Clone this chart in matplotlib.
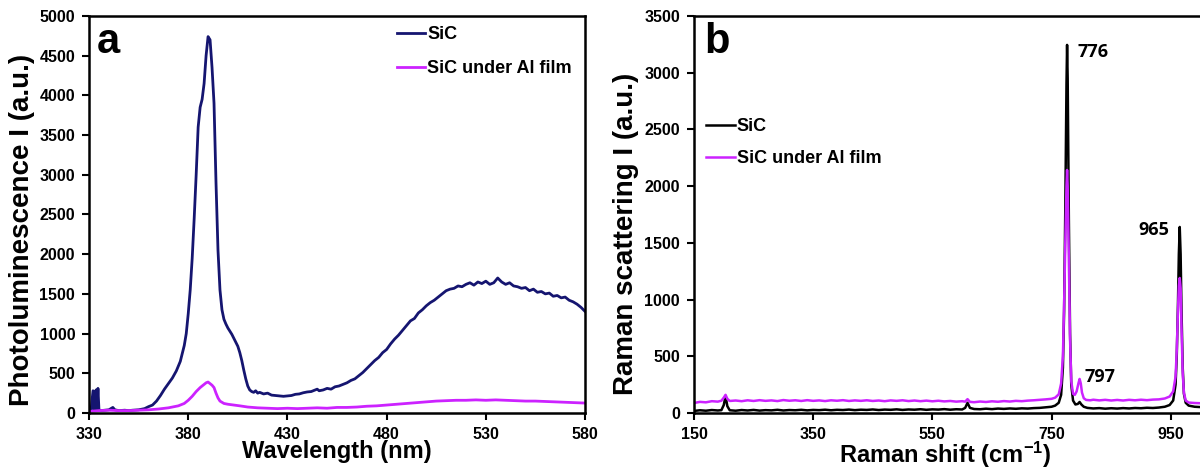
import matplotlib
matplotlib.use("Agg")
import matplotlib.pyplot as plt

plt.rcParams["font.family"] = ["Liberation Sans", "DejaVu Sans"]
plt.rcParams["font.weight"] = "bold"
plt.rcParams["mathtext.fontset"] = "custom"
plt.rcParams["mathtext.rm"] = "Liberation Sans:bold"
plt.rcParams["mathtext.bf"] = "Liberation Sans:bold"
plt.rcParams["mathtext.default"] = "bf"

# --- Panel a: photoluminescence ---
pl_wl = [330, 331, 332, 332.5, 333, 333.5, 334, 334.5, 335, 336, 338, 340, 342, 343, 345, 348,
         350, 352, 355, 358, 360, 362, 364, 366, 368, 370, 372, 374, 376, 378, 379, 380, 381,
         382, 383, 384, 385, 386, 387, 388, 389, 390, 391, 392, 393, 394, 395, 396, 397, 398,
         399, 400, 401, 402, 403, 404, 405, 406, 407, 408, 409, 410, 411, 412, 413, 414, 415,
         416, 418, 420, 422, 424, 426, 428, 430, 432, 434, 436, 438, 440, 442, 444, 445, 446,
         448, 450, 452, 454, 456, 458, 460, 462, 464, 466, 468, 470, 472, 474, 476, 478, 480,
         482, 484, 486, 488, 490, 492, 494, 496, 498, 500, 502, 504, 506, 508, 510, 512, 514,
         516, 518, 520, 522, 524, 526, 528, 530, 532, 534, 536, 538, 540, 542, 544, 546, 548,
         550, 552, 554, 556, 558, 560, 562, 564, 566, 568, 570, 572, 574, 576, 578, 580]
pl_sic = [30, 35, 280, 40, 30, 290, 40, 310, 40, 30, 35, 40, 70, 40, 30, 35,
          30, 35, 40, 55, 80, 100, 150, 220, 300, 370, 440, 530, 650, 850, 1000, 1250, 1550,
          1950, 2450, 3000, 3600, 3850, 3950, 4150, 4500, 4740, 4700, 4350, 3900, 2900, 2050, 1550, 1300, 1180,
          1120, 1070, 1030, 990, 940, 890, 840, 760, 660, 540, 430, 340, 290, 270, 260, 280, 250,
          260, 240, 250, 225, 220, 215, 210, 215, 220, 235, 240, 255, 265, 270, 290, 300, 280,
          290, 310, 300, 330, 340, 360, 380, 410, 430, 470, 510, 560, 610, 660, 700, 760, 800,
          870, 930, 980, 1040, 1100, 1160, 1190, 1260, 1300, 1350, 1390, 1420, 1460, 1500, 1540, 1560, 1570,
          1600, 1590, 1620, 1640, 1610, 1650, 1630, 1660, 1620, 1640, 1700, 1650, 1620, 1640, 1600, 1590, 1570,
          1580, 1540, 1560, 1520, 1530, 1500, 1510, 1470, 1480, 1450, 1460, 1420, 1400, 1370, 1330, 1280]

pl_wl_al = [330, 335, 340, 345, 350, 355, 360, 365, 370, 375, 378, 380, 382, 384, 386, 388, 389,
            390, 391, 392, 393, 394, 395, 396, 398, 400, 403, 406, 410, 415, 420, 425, 430, 435,
            440, 445, 450, 455, 460, 465, 470, 475, 480, 485, 490, 495, 500, 505, 510, 515, 520,
            525, 530, 535, 540, 545, 550, 555, 560, 565, 570, 575, 580]
pl_al = [20, 30, 35, 30, 30, 35, 40, 50, 65, 90, 120, 160, 210, 270, 320, 360, 380,
         390, 370, 350, 320, 250, 190, 150, 120, 110, 100, 90, 75, 65, 60, 55, 60, 55,
         60, 65, 60, 70, 70, 75, 85, 90, 100, 110, 120, 130, 140, 150, 155, 160, 160,
         165, 160, 165, 160, 155, 150, 150, 145, 140, 135, 130, 125]

# --- Panel b: Raman ---
rm_x = [150, 160, 170, 180, 190, 196, 200, 203, 206, 210, 220, 230, 240, 250, 260, 270, 280, 290,
        300, 310, 320, 330, 340, 350, 360, 370, 380, 390, 400, 410, 420, 430, 440, 450, 460, 470,
        480, 490, 500, 510, 520, 530, 540, 550, 560, 570, 580, 590, 600, 605, 609, 613, 620, 630,
        640, 650, 660, 670, 680, 690, 700, 710, 720, 730, 740, 750, 756, 762, 766, 769, 771, 773,
        775, 776, 777, 779, 781, 783, 786, 790, 794, 797, 800, 804, 810, 820, 830, 840, 850, 860,
        870, 880, 890, 900, 910, 920, 930, 940, 948, 954, 958, 960, 962, 963.5, 965, 966.5, 968,
        970, 972, 975, 980, 990, 1000, 1050, 1100, 1150]
rm_sic = [18, 24, 20, 26, 22, 25, 70, 150, 60, 24, 20, 26, 22, 27, 21, 25, 23, 28,
          22, 26, 24, 28, 23, 27, 25, 29, 24, 28, 26, 30, 25, 29, 27, 31, 26, 30,
          28, 32, 27, 31, 29, 33, 28, 32, 30, 34, 29, 33, 31, 45, 90, 45, 35, 33,
          38, 34, 39, 36, 40, 37, 41, 39, 43, 45, 50, 55, 65, 90, 160, 400, 900, 1800,
          2900, 3245, 2950, 1700, 700, 250, 110, 75, 80, 97, 75, 55, 45, 40, 43, 38, 42, 39,
          43, 40, 44, 42, 46, 44, 48, 55, 70, 110, 250, 500, 950, 1400, 1640, 1400, 900,
          400, 170, 90, 65, 55, 52, 50, 50, 50]

rm_x_al = [150, 160, 170, 180, 190, 196, 200, 203, 206, 210, 220, 230, 240, 250, 260, 270, 280, 290,
           300, 310, 320, 330, 340, 350, 360, 370, 380, 390, 400, 410, 420, 430, 440, 450, 460, 470,
           480, 490, 500, 510, 520, 530, 540, 550, 560, 570, 580, 590, 600, 605, 609, 613, 620, 630,
           640, 650, 660, 670, 680, 690, 700, 710, 720, 730, 740, 750, 756, 762, 766, 769, 771, 773,
           775, 776, 777, 779, 781, 783, 786, 789, 792, 795, 797, 799, 801, 804, 808, 815, 820, 830,
           840, 850, 860, 870, 880, 890, 900, 910, 920, 930, 940, 948, 954, 958, 960, 962, 963.5,
           965, 966.5, 968, 970, 972, 975, 980, 990, 1000, 1050, 1100, 1150]
rm_al = [88, 98, 94, 104, 100, 108, 135, 160, 125, 106, 110, 104, 112, 106, 113, 107, 111, 105,
         114, 108, 112, 106, 113, 107, 111, 105, 112, 108, 113, 106, 111, 107, 112, 106, 110, 104,
         111, 107, 112, 105, 110, 104, 109, 103, 108, 102, 106, 100, 104, 100, 122, 98, 95, 101,
         97, 103, 99, 105, 101, 107, 104, 109, 112, 116, 120, 125, 135, 165, 260, 500, 950, 1500,
         2000, 2142, 2000, 1350, 650, 280, 170, 160, 190, 260, 300, 260, 180, 130, 115, 112, 117, 111,
         116, 110, 115, 110, 116, 112, 117, 113, 118, 120, 128, 145, 190, 320, 550, 900, 1120,
         1190, 1100, 750, 350, 180, 110, 92, 88, 86, 85, 85, 85]

peak_labels = ["776", "797", "965"]
peak_pos = [(793, 3183), (806, 317), (947, 1614)]

fig = plt.figure(figsize=(12, 4.7), dpi=100)
ax1 = fig.add_axes([0.0742, 0.1213, 0.4133, 0.8447])
ax2 = fig.add_axes([0.5783, 0.1213, 0.4967, 0.8447])

navy = "#151570"
magenta = "#cc22ff"

ax1.plot(pl_wl, pl_sic, color=navy, lw=2, label="SiC")
ax1.plot(pl_wl_al, pl_al, color=magenta, lw=2, label="SiC under Al film")
ax1.set_xlim(330, 580)
ax1.set_ylim(0, 5000)
ax1.set_xticks(range(330, 581, 50))
ax1.set_yticks(range(0, 5001, 500))
ax1.set_xlabel("Wavelength (nm)", fontsize=17, fontweight="bold")
ax1.set_ylabel("Photoluminescence I (a.u.)", fontsize=20, fontweight="bold")
ax1.xaxis.set_label_coords(0.5, -0.068)
ax1.yaxis.set_label_coords(-0.109, 0.46)
ax1.text(0.016, 0.907, "a", transform=ax1.transAxes, fontsize=30, fontweight="bold")
ax1.legend(loc="upper left", bbox_to_anchor=(0.62, 0.975), frameon=False, fontsize=13,
           handlelength=1.6, handletextpad=0.1, labelspacing=0.95, borderpad=0, borderaxespad=0)

ax2.plot(rm_x, rm_sic, color="black", lw=1.8, label="SiC")
ax2.plot(rm_x_al, rm_al, color=magenta, lw=1.8, label="SiC under Al film")
ax2.set_xlim(150, 1150)
ax2.set_ylim(0, 3500)
ax2.set_xticks(range(150, 951, 200))
ax2.set_yticks(range(0, 3501, 500))
ax2.set_xlabel("Raman shift (cm$^{-1}$)", fontsize=17, fontweight="bold")
ax2.set_ylabel("Raman scattering I (a.u.)", fontsize=20, fontweight="bold")
ax2.xaxis.set_label_coords(0.421, -0.068)
ax2.yaxis.set_label_coords(-0.092, 0.45)
ax2.text(0.018, 0.907, "b", transform=ax2.transAxes, fontsize=30, fontweight="bold")
ax2.legend(loc="upper left", bbox_to_anchor=(0.02, 0.742), frameon=False, fontsize=13,
           handlelength=1.6, handletextpad=0.1, labelspacing=0.8, borderpad=0, borderaxespad=0)
for lab, (px, py) in zip(peak_labels, peak_pos):
    ax2.text(px, py, lab, family="Open Sans", fontsize=13, fontweight="bold",
             ha="right" if lab == "965" else "left", va="center")

for ax in (ax1, ax2):
    for sp in ax.spines.values():
        sp.set_linewidth(1.8)
    ax.tick_params(direction="out", length=5, width=1.5, labelsize=11.5, pad=5)
    for t in ax.get_xticklabels() + ax.get_yticklabels():
        t.set_fontweight("bold")

fig.savefig("out.png", dpi=100)
